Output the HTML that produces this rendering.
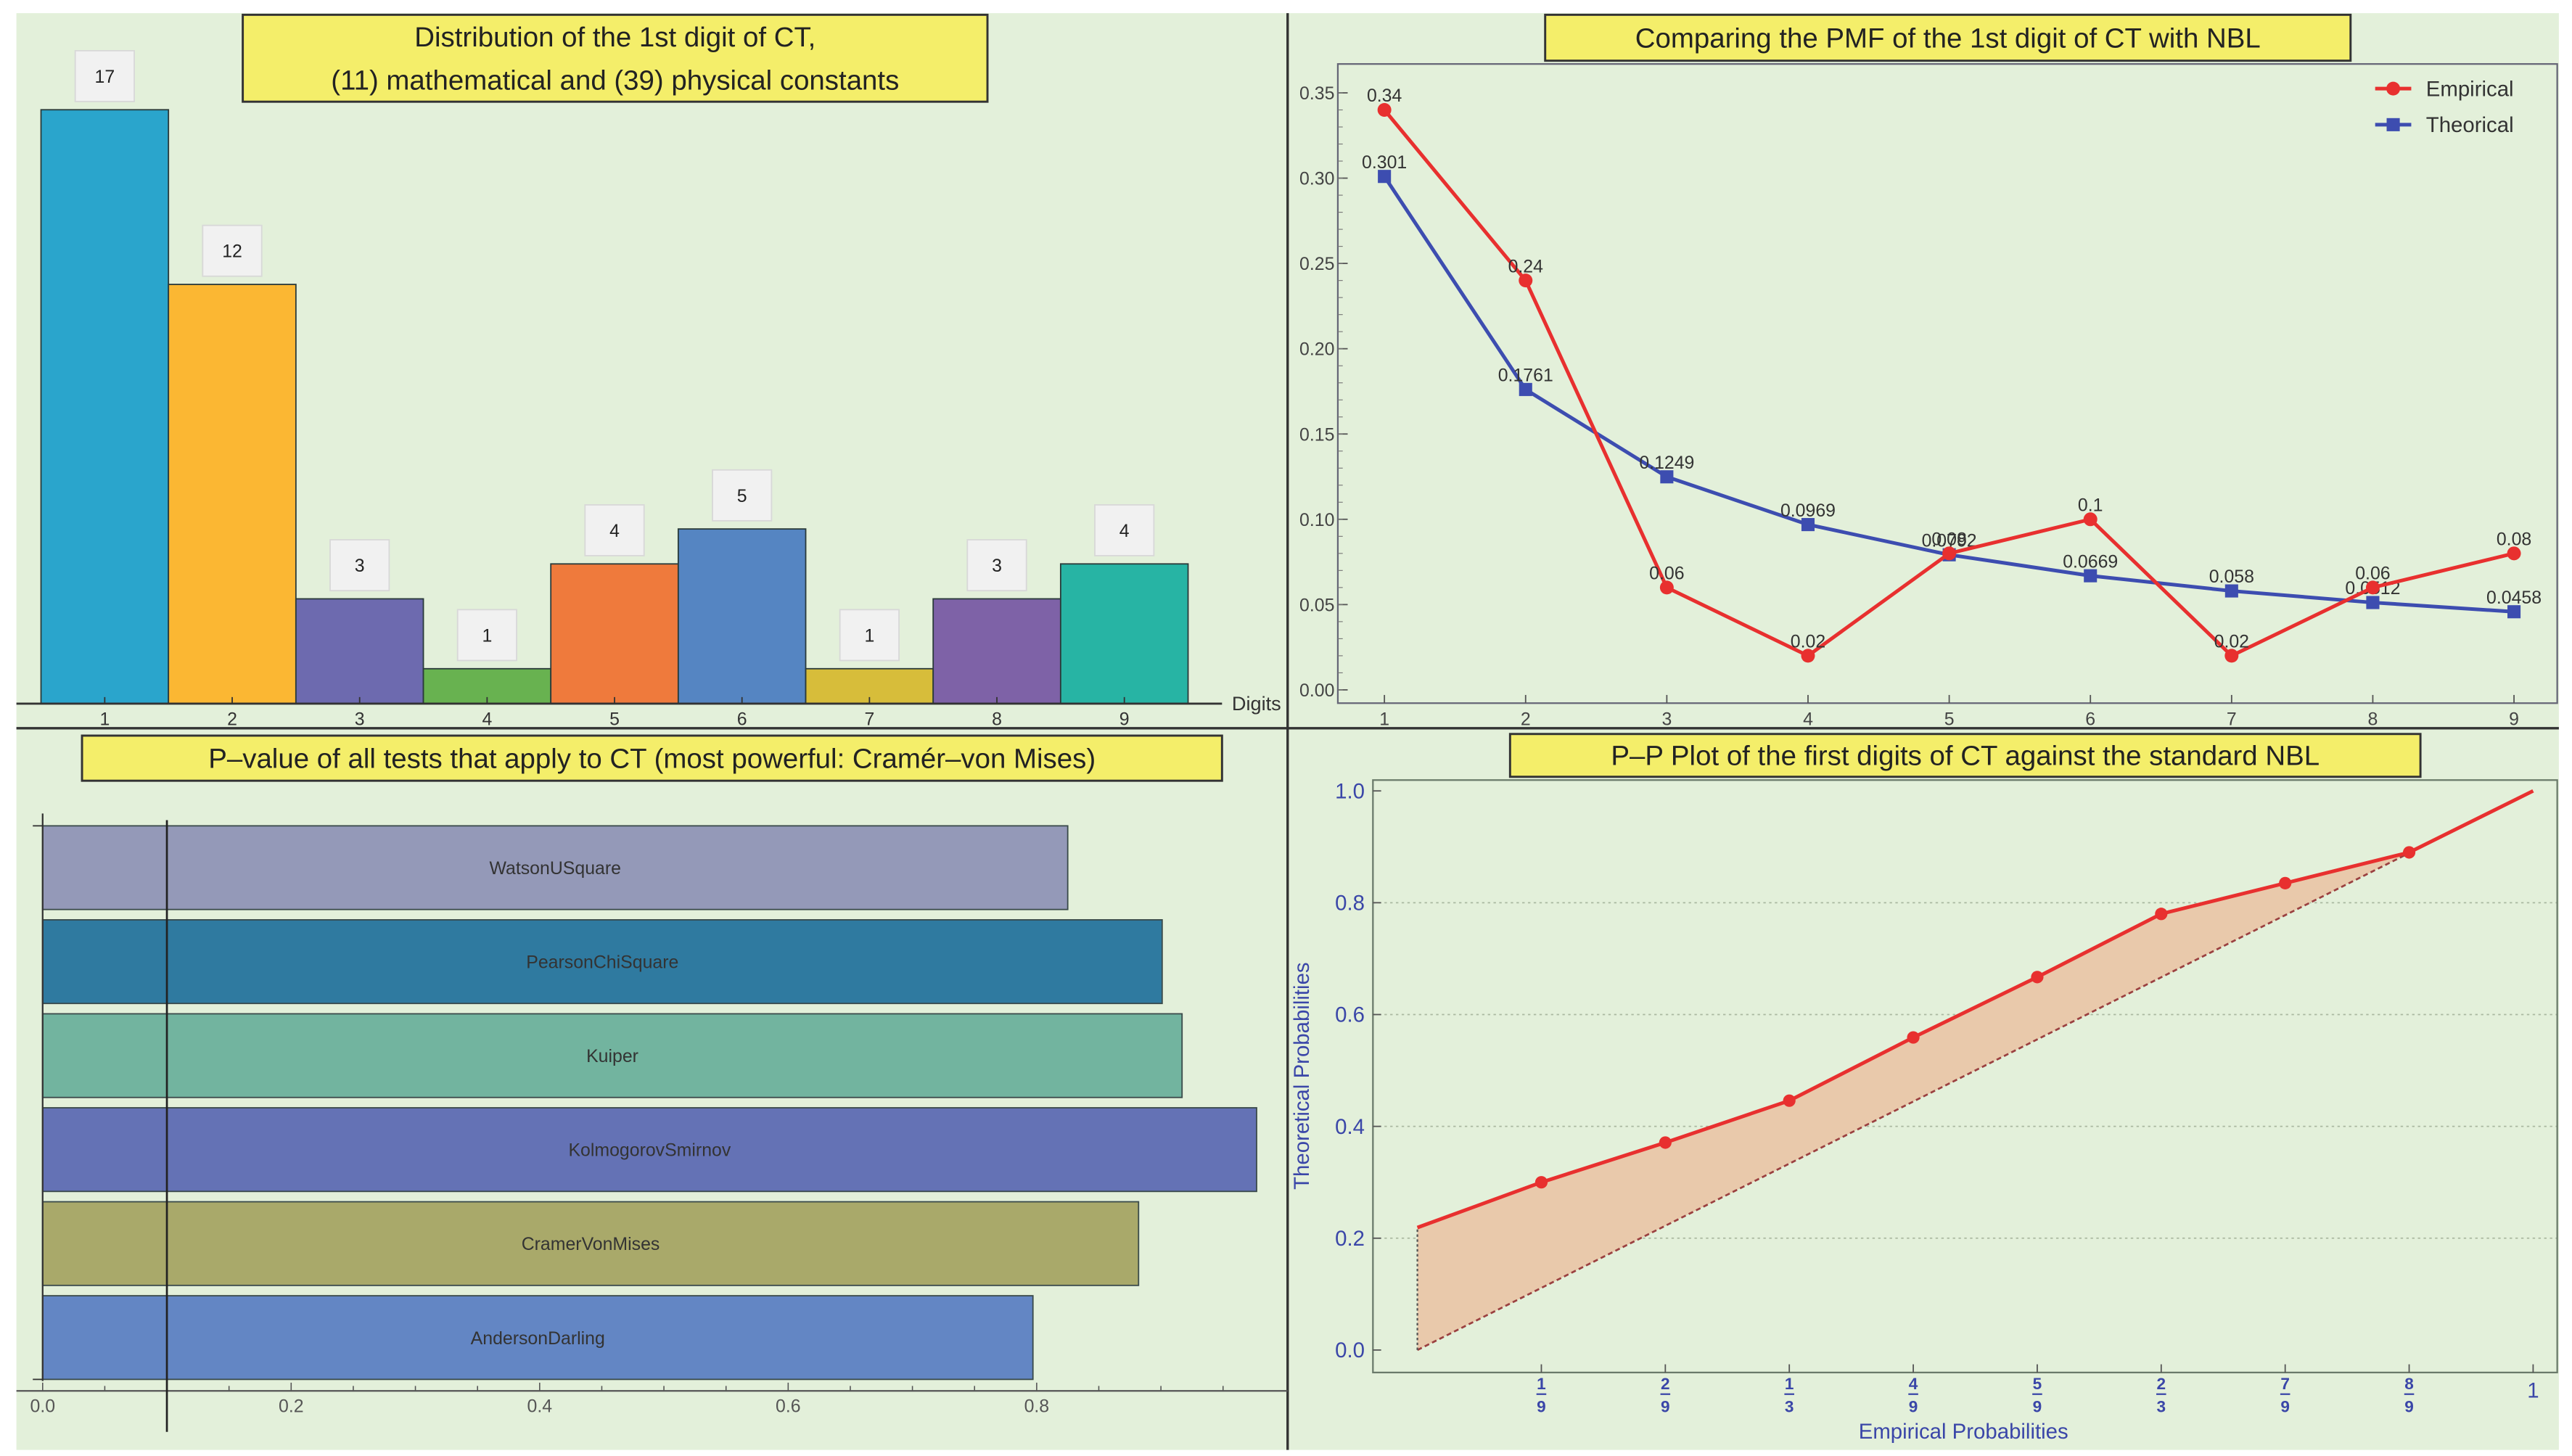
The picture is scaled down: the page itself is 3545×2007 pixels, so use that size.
<!DOCTYPE html>
<html><head><meta charset="utf-8">
<style>
html,body{margin:0;padding:0;background:#fff;}
svg{display:block;}
text{font-family:"Liberation Sans Narrow","Liberation Sans",sans-serif;}
</style></head>
<body>
<svg id="root" width="3545" height="2007" viewBox="0 0 1568 887.7" xmlns="http://www.w3.org/2000/svg">
<rect x="10" y="8" width="1550" height="876" fill="#e3f0da"/>
<line x1="785" y1="8" x2="785" y2="884" stroke="#333" stroke-width="1.5"/>
<line x1="10" y1="444" x2="1560" y2="444" stroke="#333" stroke-width="1.5"/>
<g id="p1"></g>
<g id="p2"></g>
<g id="p3"></g>
<g id="p4"></g>
</svg>
<script>
// ---- data ----
const digits = [1,2,3,4,5,6,7,8,9];
const counts = [17,12,3,1,4,5,1,3,4];
const empirical = [0.34,0.24,0.06,0.02,0.08,0.1,0.02,0.06,0.08];
const theoretical = [0.301,0.1761,0.1249,0.0969,0.0792,0.0669,0.058,0.0512,0.0458];
const pmfYTicks = ["0.00","0.05","0.10","0.15","0.20","0.25","0.30","0.35"];
const testNames = ["WatsonUSquare","PearsonChiSquare","Kuiper","KolmogorovSmirnov","CramerVonMises","AndersonDarling"];
const pValues = [0.825,0.901,0.917,0.977,0.882,0.797];
const pXTicks = ["0.0","0.2","0.4","0.6","0.8"];
const ppX = [0,1/9,2/9,3/9,4/9,5/9,6/9,7/9,8/9,1];
const ppY = [0.219,0.300,0.371,0.446,0.559,0.667,0.780,0.835,0.890,1.0];
const ppXNum = ["1","2","1","4","5","2","7","8"];
const ppXDen = ["9","9","3","9","9","3","9","9"];
const ppYTicks = ["0.0","0.2","0.4","0.6","0.8","1.0"];

const NS="http://www.w3.org/2000/svg";
function mk(parent, tag, attrs, txt){
  const e=document.createElementNS(NS,tag);
  for(const k in attrs) e.setAttribute(k,attrs[k]);
  if(txt!==undefined) e.textContent=txt;
  parent.appendChild(e); return e;
}
function titleBox(g,x,y,w,h,lines,fs){
  const r=mk(g,'rect',{x:x,y:y,width:w,height:h,fill:'#f4ee6a',stroke:'#333','stroke-width':1.3});
  
  
  lines.forEach((t,i)=>{
    const tx=mk(g,'text',{x:x+w/2,y:y+h/(lines.length)*(i+0.5)+fs*0.35,'font-size':fs,'text-anchor':'middle',fill:'#222'},t);
    
    
  });
}

// ---- Panel 1 ----
(function(){
  const g=document.getElementById('p1');
  const colors=['#2aa5cc','#fbb733','#6d6aaf','#68b250','#ef7a3c','#5585c2','#d7bd3a','#7e62a7','#27b4a4'];
  const base=429, unit=21.3, x0=25, bw=77.7;
  const xs=i=>x0+i*bw, ys=v=>base-v*unit;
  counts.forEach((c,i)=>{
    const b=mk(g,'rect',{x:xs(i),y:ys(c),width:bw,height:c*unit,fill:colors[i],stroke:'#2a3a3a','stroke-width':0.8});
    
    
    const bx=mk(g,'rect',{x:xs(i)+bw/2-18,y:ys(c)-36,width:36,height:31,fill:'#f1f1f1',stroke:'#d8d8d8','stroke-width':0.8});
    
    
    const t=mk(g,'text',{x:xs(i)+bw/2,y:ys(c)-16.5,'font-size':11,'text-anchor':'middle',fill:'#222'},String(c));
    
    
    mk(g,'line',{x1:xs(i)+bw/2,y1:base,x2:xs(i)+bw/2,y2:base-4,stroke:'#333','stroke-width':0.8});
    const tl=mk(g,'text',{x:xs(i)+bw/2,y:442,'font-size':11,'text-anchor':'middle',fill:'#333'},String(digits[i]));
    
    
  });
  const ax=mk(g,'line',{x1:10,y1:base,x2:745,y2:base,stroke:'#333','stroke-width':1.3});
  
  
  const dl=mk(g,'text',{x:751,y:433,'font-size':12,fill:'#333'},'Digits');
  
  
  titleBox(g,148,9,454,53,['Distribution of the 1st digit of CT,','(11) mathematical and (39) physical constants'],17);
})();

// ---- Panel 2 ----
(function(){
  const g=document.getElementById('p2');
  const L=815.6,R=1559,T=39,B=428.7;
  const xs=d=>844+(d-1)*86.08, ys=v=>420.6-v*1040;
  const fr=mk(g,'rect',{x:L,y:T,width:R-L,height:B-T,fill:'none',stroke:'#667','stroke-width':1});
  
  
  pmfYTicks.forEach(t=>{
    const v=parseFloat(t);
    mk(g,'line',{x1:L,y1:ys(v),x2:L+6,y2:ys(v),stroke:'#555','stroke-width':0.8});
    const tx=mk(g,'text',{x:L-2,y:ys(v)+4,'font-size':11,'text-anchor':'end',fill:'#444'},t);
    
    
  });
  for(let k=0;k<36;k++){ const v=k*0.01; mk(g,'line',{x1:L,y1:ys(v),x2:L+3,y2:ys(v),stroke:'#777','stroke-width':0.5}); }
  digits.forEach(d=>{
    mk(g,'line',{x1:xs(d),y1:B,x2:xs(d),y2:B-5,stroke:'#555','stroke-width':0.8});
    const tx=mk(g,'text',{x:xs(d),y:442,'font-size':11,'text-anchor':'middle',fill:'#444'},String(d));
    
    
  });
  function series(vals,color,name,sq){
    const pts=vals.map((v,i)=>xs(digits[i])+','+ys(v)).join(' ');
    const pl=mk(g,'polyline',{points:pts,fill:'none',stroke:color,'stroke-width':2.2});
    
    
    vals.forEach((v,i)=>{
      let m;
      if(sq) m=mk(g,'rect',{x:xs(digits[i])-4,y:ys(v)-4,width:8,height:8,fill:color});
      else m=mk(g,'circle',{cx:xs(digits[i]),cy:ys(v),r:4.2,fill:color});
      
      
      const t=mk(g,'text',{x:xs(digits[i]),y:ys(v)-5,'font-size':11,'text-anchor':'middle',fill:'#333'},String(v));
      
      
    });
  }
  series(theoretical,'#3d4db0','theoretical',true);
  series(empirical,'#e8302f','empirical',false);
  // legend
  const lg=mk(g,'g',{});
  
  
  mk(lg,'line',{x1:1448,y1:54,x2:1470,y2:54,stroke:'#e8302f','stroke-width':2.2});
  mk(lg,'circle',{cx:1459,cy:54,r:4.2,fill:'#e8302f'});
  const l1=mk(lg,'text',{x:1479,y:58.5,'font-size':13,fill:'#333'},'Empirical');
  
  
  mk(lg,'line',{x1:1448,y1:76,x2:1470,y2:76,stroke:'#3d4db0','stroke-width':2.2});
  mk(lg,'rect',{x:1455,y:72,width:8,height:8,fill:'#3d4db0'});
  const l2=mk(lg,'text',{x:1479,y:80.5,'font-size':13,fill:'#333'},'Theorical');
  
  
  titleBox(g,942,9,491,28,['Comparing the PMF of the 1st digit of CT with NBL'],17);
})();

// ---- Panel 3 ----
(function(){
  const g=document.getElementById('p3');
  const colors=['#9499b8','#2f7aa0','#72b49f','#6472b5','#a9a96a','#6386c4'];
  const x0=26, unit=757.5, top0=503.5, step=57.3, bh=51;
  const xs=v=>x0+v*unit;
  testNames.forEach((n,i)=>{
    const y=top0+i*step;
    const b=mk(g,'rect',{x:x0,y:y,width:pValues[i]*unit,height:bh,fill:colors[i],stroke:'#3a4a4a','stroke-width':0.8});
    
    
    const t=mk(g,'text',{x:xs(pValues[i]/2),y:y+bh/2+4,'font-size':11,'text-anchor':'middle',fill:'#333'},n);
    
    
  });
  const ya=mk(g,'line',{x1:x0,y1:496,x2:x0,y2:842,stroke:'#333','stroke-width':1});
  
  
  mk(g,'line',{x1:x0-6,y1:503.5,x2:x0,y2:503.5,stroke:'#333','stroke-width':0.8});
  mk(g,'line',{x1:x0-6,y1:841,x2:x0,y2:841,stroke:'#333','stroke-width':0.8});
  const xa=mk(g,'line',{x1:10,y1:848,x2:785,y2:848,stroke:'#555','stroke-width':1});
  
  
  for(let k=0;k<=19;k++){ const v=k*0.05; mk(g,'line',{x1:xs(v),y1:848,x2:xs(v),y2:848-(k%4==0?5:3),stroke:'#555','stroke-width':0.7}); }
  pXTicks.forEach(t=>{
    const tx=mk(g,'text',{x:xs(parseFloat(t)),y:861,'font-size':11,'text-anchor':'middle',fill:'#555'},t);
    
    
  });
  const th=mk(g,'line',{x1:xs(0.1),y1:500,x2:xs(0.1),y2:873,stroke:'#222','stroke-width':1.2});
  
  
  titleBox(g,50,448.5,695,27.5,['P–value of all tests that apply to CT (most powerful: Cramér–von Mises)'],17);
})();

// ---- Panel 4 ----
(function(){
  const g=document.getElementById('p4');
  const L=837,R=1559,T=475.6,B=836.8;
  const xs=v=>864.1+v*680.2, ys=v=>823.1-v*340.9;
  const blue='#3a46a8';
  [0.2,0.4,0.6,0.8].forEach(v=>{
    const gl=mk(g,'line',{x1:L,y1:ys(v),x2:R,y2:ys(v),stroke:'#aab8a0','stroke-width':0.8,'stroke-dasharray':'1.5,2'});
    
    
  });
  // fill area
  let fpts=[];
  for(let i=0;i<=8;i++) fpts.push(xs(ppX[i])+','+ys(ppY[i]));
  fpts.push(xs(ppX[8])+','+ys(ppX[8]));
  fpts.push(xs(0)+','+ys(0));
  const fa=mk(g,'polygon',{points:fpts.join(' '),fill:'#e9c9ab',stroke:'none'});
  
  
  const dg=mk(g,'line',{x1:xs(0),y1:ys(0),x2:xs(ppX[8]),y2:ys(ppX[8]),stroke:'#9a4040','stroke-width':1.2,'stroke-dasharray':'3,2'});
  
  
  mk(g,'line',{x1:xs(0),y1:ys(0),x2:xs(0),y2:ys(ppY[0]),stroke:'#555','stroke-width':1,'stroke-dasharray':'1.5,1.5'});
  const pl=mk(g,'polyline',{points:ppX.map((x,i)=>xs(x)+','+ys(ppY[i])).join(' '),fill:'none',stroke:'#e8302f','stroke-width':2.2});
  
  
  for(let i=1;i<=8;i++){
    const c=mk(g,'circle',{cx:xs(ppX[i]),cy:ys(ppY[i]),r:3.8,fill:'#e8302f'});
    
    
  }
  const fr=mk(g,'rect',{x:L,y:T,width:R-L,height:B-T,fill:'none',stroke:'#6a7a6a','stroke-width':1});
  
  
  ppYTicks.forEach(t=>{
    const v=parseFloat(t);
    mk(g,'line',{x1:L,y1:ys(v),x2:L+5,y2:ys(v),stroke:'#555','stroke-width':0.8});
    const tx=mk(g,'text',{x:L-5,y:ys(v)+4.5,'font-size':13,'text-anchor':'end',fill:blue},t);
    
    
  });
  ppXNum.forEach((n,i)=>{
    const x=xs(ppX[i+1]);
    mk(g,'line',{x1:x,y1:B,x2:x,y2:B-5,stroke:'#555','stroke-width':0.8});
    const a=mk(g,'text',{x:x,y:847,'font-size':10,'text-anchor':'middle',fill:blue,'font-weight':'bold'},n);
    
    
    mk(g,'line',{x1:x-3,y1:850,x2:x+3,y2:850,stroke:blue,'stroke-width':1});
    const b=mk(g,'text',{x:x,y:861,'font-size':10,'text-anchor':'middle',fill:blue,'font-weight':'bold'},ppXDen[i]);
    
    
  });
  mk(g,'line',{x1:xs(1),y1:B,x2:xs(1),y2:B-5,stroke:'#555','stroke-width':0.8});
  const one=mk(g,'text',{x:xs(1),y:852,'font-size':13,'text-anchor':'middle',fill:blue},'1');
  
  
  const xt=mk(g,'text',{x:1197,y:877,'font-size':13,'text-anchor':'middle',fill:blue},'Empirical Probabilities');
  
  
  const yt=mk(g,'text',{x:0,y:0,'font-size':13,'text-anchor':'middle',fill:blue,transform:'translate(798,656) rotate(-90)'},'Theoretical Probabilities');
  
  
  titleBox(g,920.6,447.5,555,26.1,['P–P Plot of the first digits of CT against the standard NBL'],17);
})();
</script>
</body></html>
